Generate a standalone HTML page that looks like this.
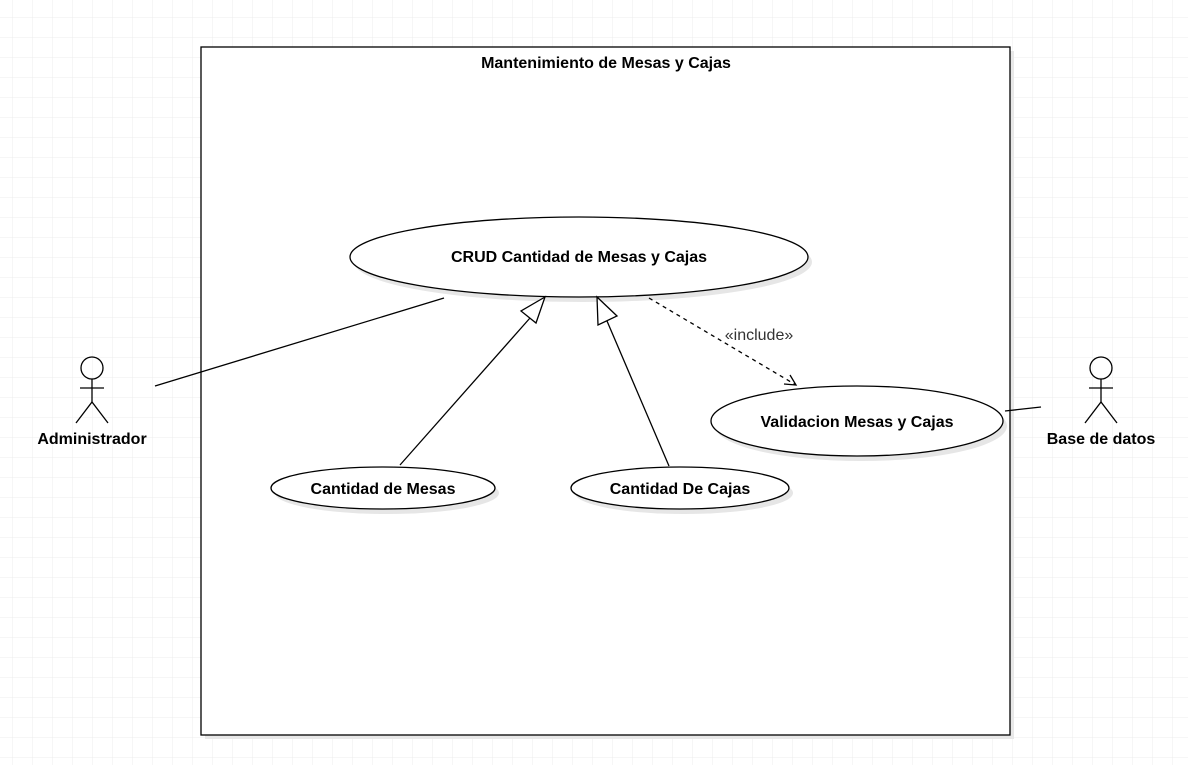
<!DOCTYPE html>
<html><head><meta charset="utf-8"><style>
html,body{margin:0;padding:0;background:#fff}
svg{display:block}
text{font-family:"Liberation Sans",Arial,sans-serif}
</style></head><body>
<svg width="1188" height="765" viewBox="0 0 1188 765" xmlns="http://www.w3.org/2000/svg">
<defs>
<pattern id="g" x="12" y="17" width="20" height="20" patternUnits="userSpaceOnUse">
<path d="M0 0H20M0 0V20" stroke="#ececec" stroke-width="1" fill="none"/>
</pattern>
</defs>
<rect width="1188" height="765" fill="url(#g)"/>
<rect x="205" y="51" width="809" height="688" fill="#e8e8e8"/>
<rect x="201" y="47" width="809" height="688" fill="#fff" stroke="#000" stroke-width="1.3"/>
<text x="606" y="68" font-size="16" font-weight="bold" text-anchor="middle">Mantenimiento de Mesas y Cajas</text>
<g fill="#e6e6e6">
<ellipse cx="583" cy="262" rx="229" ry="40"/>
<ellipse cx="861" cy="426" rx="146" ry="35"/>
<ellipse cx="387" cy="493" rx="112" ry="21"/>
<ellipse cx="684" cy="493" rx="109" ry="21"/>
</g>
<g fill="#fff" stroke="#000" stroke-width="1.3">
<ellipse cx="579" cy="257" rx="229" ry="40"/>
<ellipse cx="857" cy="421" rx="146" ry="35"/>
<ellipse cx="383" cy="488" rx="112" ry="21"/>
<ellipse cx="680" cy="488" rx="109" ry="21"/>
</g>
<g font-size="16" font-weight="bold" text-anchor="middle">
<text x="579" y="262">CRUD Cantidad de Mesas y Cajas</text>
<text x="857" y="427">Validacion Mesas y Cajas</text>
<text x="383" y="494">Cantidad de Mesas</text>
<text x="680" y="494">Cantidad De Cajas</text>
</g>
<g stroke="#000" stroke-width="1.3" fill="none">
<line x1="155" y1="386" x2="444" y2="298"/>
<line x1="400" y1="465" x2="530" y2="318"/>
<polygon points="545,297 521,311 536,323" fill="#fff"/>
<line x1="669" y1="466" x2="607" y2="321"/>
<polygon points="597,297 598,325 617,316" fill="#fff"/>
<line x1="649" y1="298" x2="796" y2="385" stroke-dasharray="4,4"/>
<polyline points="784,384 796,385 790,375"/>
<line x1="1005" y1="411" x2="1041" y2="407"/>
<circle cx="92" cy="368" r="11"/>
<line x1="92" y1="379" x2="92" y2="402"/>
<line x1="80" y1="388" x2="104" y2="388"/>
<polyline points="76,423 92,402 108,423"/>
<circle cx="1101" cy="368" r="11"/>
<line x1="1101" y1="379" x2="1101" y2="402"/>
<line x1="1089" y1="388" x2="1113" y2="388"/>
<polyline points="1085,423 1101,402 1117,423"/>
</g>
<text x="759" y="340" font-size="16" text-anchor="middle" fill="#333">«include»</text>
<text x="92" y="444" font-size="16" font-weight="bold" text-anchor="middle">Administrador</text>
<text x="1101" y="444" font-size="16" font-weight="bold" text-anchor="middle">Base de datos</text>
</svg>
</body></html>
